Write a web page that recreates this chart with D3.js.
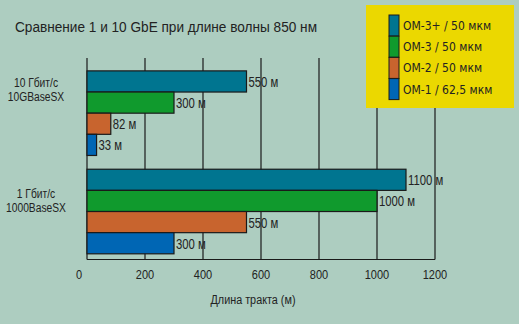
<!DOCTYPE html>
<html><head><meta charset="utf-8">
<script src="https://cdn.jsdelivr.net/npm/d3@7"></script>
<style>body{margin:0;background:#adcdc0;} svg{display:block;}</style>
</head><body>
<script>
const categories = [["10 Гбит/с","10GBaseSX"],["1 Гбит/с","1000BaseSX"]];
const series = ["ОМ-3+ / 50 мкм","ОМ-3 / 50 мкм","ОМ-2 / 50 мкм","ОМ-1 / 62,5 мкм"];
const values = [[550,300,82,33],[1100,1000,550,300]];
const ticks = [0,200,400,600,800,1000,1200];
const colors = ["#007590","#109a2d","#c8642e","#0066b4"];
const title = "Сравнение 1 и 10 GbE при длине волны 850 нм";
const axisTitle = "Длина тракта (м)";

const W=519,H=324;
const font = "'Liberation Sans',Arial,sans-serif";
const ink="#222";
const svg=d3.select("body").append("svg").attr("width",W).attr("height",H);
svg.append("rect").attr("width",W).attr("height",H).attr("fill","#adcdc0");

// condense text horizontally
function condense(sel,f){
  sel.each(function(){
    const L=this.getComputedTextLength();
    d3.select(this).attr("textLength",L*f).attr("lengthAdjust","spacingAndGlyphs");
  });
  return sel;
}

const x=d3.scaleLinear().domain([0,1200]).range([87,435]);
const y0=d3.scaleBand().domain(d3.range(categories.length)).range([64,260.7]).paddingInner(0.14).paddingOuter(0.07);
const y1=d3.scaleBand().domain(d3.range(series.length)).range([0,y0.bandwidth()]);

const t=svg.append("text").attr("x",15).attr("y",32).attr("font-family",font).attr("font-size",15.5).attr("fill",ink).text(title);
t.attr("textLength",302).attr("lengthAdjust","spacingAndGlyphs");

// grid
svg.append("g").selectAll("line").data(ticks).join("line")
 .attr("x1",d=>x(d)).attr("x2",d=>x(d)).attr("y1",58).attr("y2",259.5)
 .attr("stroke","#1a1a1a").attr("stroke-width",1.2);
svg.append("line").attr("x1",x(0)).attr("x2",x(1200)).attr("y1",259.5).attr("y2",259.5).attr("stroke","#1a1a1a").attr("stroke-width",1.2);

const g=svg.append("g").selectAll("g").data(values).join("g").attr("transform",(d,i)=>`translate(0,${y0(i)})`);
g.selectAll("rect").data(d=>d).join("rect")
 .attr("x",x(0)).attr("y",(d,j)=>y1(j)).attr("width",d=>x(d)-x(0)).attr("height",y1.bandwidth())
 .attr("fill",(d,j)=>colors[j]).attr("stroke","#1a1a1a").attr("stroke-width",1.2);
condense(g.selectAll("text").data(d=>d).join("text")
 .attr("x",d=>x(d)+2).attr("y",(d,j)=>y1(j)+y1.bandwidth()/2+5.5)
 .attr("font-family",font).attr("font-size",14.5).attr("fill",ink).text(d=>d+" м"),0.78);

// category labels
const labelOffsets=[-26.5,-14];
categories.forEach((c,i)=>{
  const cy=y0(i)+y0.bandwidth()/2+labelOffsets[i];
  c.forEach((s,k)=>{
    condense(svg.append("text").attr("x",36).attr("y",cy+k*14).attr("text-anchor","middle").attr("font-family",font).attr("font-size",12.5).attr("fill",ink).text(s),0.82);
  });
});

// tick labels
condense(svg.append("g").selectAll("text").data(ticks).join("text")
 .attr("x",d=>d===0?x(d)-8:x(d)).attr("y",279).attr("text-anchor","middle")
 .attr("font-family",font).attr("font-size",12.5).attr("fill",ink).text(d=>d),0.88);
const at=svg.append("text").attr("x",253).attr("y",304).attr("text-anchor","middle").attr("font-family",font).attr("font-size",12.5).attr("fill",ink).text(axisTitle);
at.attr("textLength",85).attr("lengthAdjust","spacingAndGlyphs");

// legend
svg.append("rect").attr("x",366).attr("y",5).attr("width",148).attr("height",103).attr("fill","#ebd800");
const lg=svg.append("g").selectAll("g").data(series).join("g").attr("transform",(d,i)=>`translate(389,${15+i*21.2})`);
lg.append("rect").attr("width",10).attr("height",21).attr("fill",(d,i)=>colors[i]).attr("stroke","#1a1a1a").attr("stroke-width",1);
lg.append("text").attr("x",14).attr("y",15).attr("font-family","'DejaVu Sans Condensed',sans-serif").attr("font-size",12).attr("fill",ink).text(d=>d);
</script>
</body></html>
